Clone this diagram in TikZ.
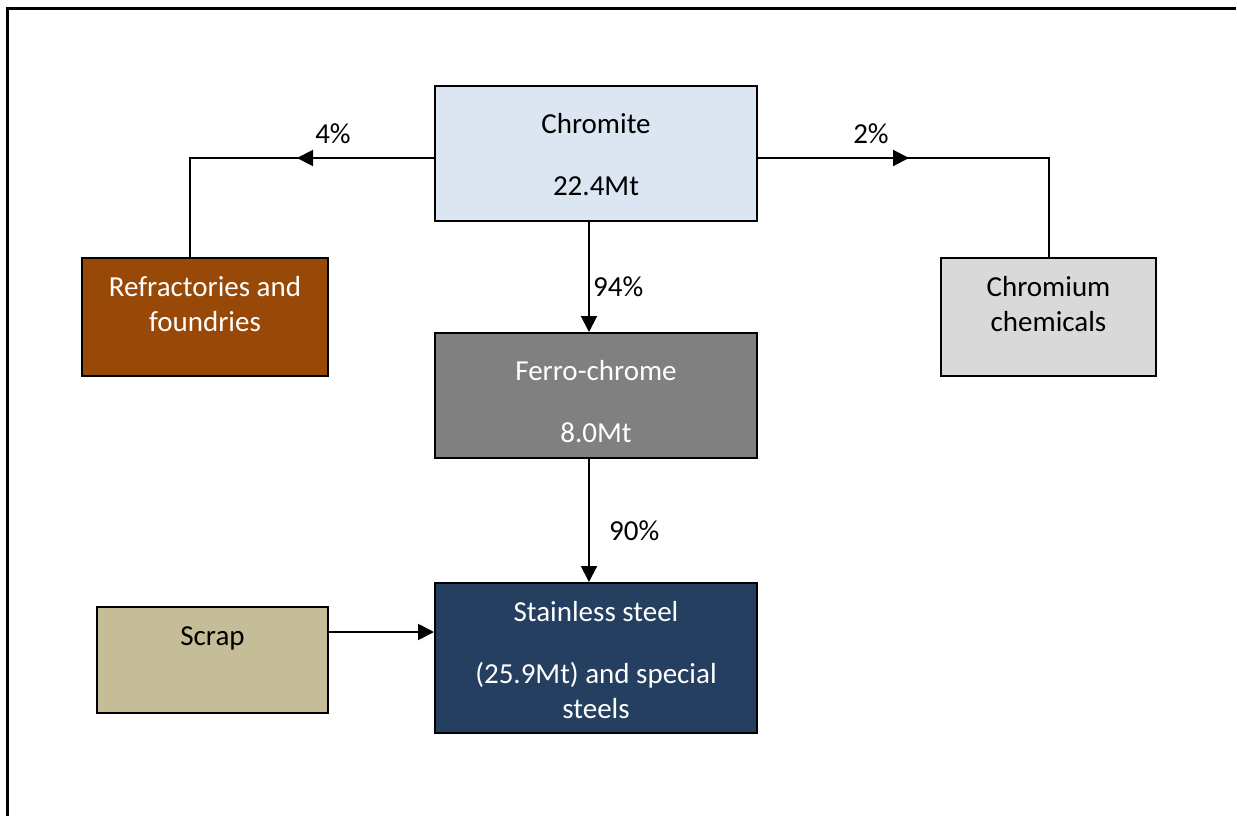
\documentclass[tikz,border=0pt]{standalone}
\usepackage{fontspec}
\setmainfont{Carlito}
\usetikzlibrary{arrows.meta}
\usetikzlibrary{positioning}
\usetikzlibrary{decorations.markings}
\definecolor{chromiteblue}{HTML}{DCE6F2}
\definecolor{refrbrown}{HTML}{984807}
\definecolor{chemgrey}{HTML}{D9D9D9}
\definecolor{ferrogrey}{HTML}{808080}
\definecolor{steelblue}{HTML}{243F60}
\definecolor{scraptan}{HTML}{C4BD97}
\tikzset{
	box/.style={rectangle,draw=black,line width=2pt,inner sep=0pt},
	boxtext/.style={align=center,inner sep=0pt,anchor=north,font=\fontsize{29}{35}\selectfont},
	pct/.style={inner sep=0pt,anchor=base,font=\fontsize{29}{35}\selectfont},
	flow/.style={line width=2pt,-{Triangle[length=16pt,width=16pt]}},
	midarrow/.style={line width=2pt,decoration={markings,
		mark=at position #1 with {\arrow{Triangle[length=16pt,width=16pt]}}},postaction={decorate}}
}
\newcommand{\topstrut}{\rule{0pt}{24pt}}

\begin{document}
\begin{tikzpicture}[x=1pt,y=-1pt]
	\useasboundingbox (0,0) rectangle (1237,816);
	% frame
	\draw[line width=3pt] (7,816) -- (7,9) -- (1236,9);

	% boxes
	\node [box,fill=chromiteblue,minimum width=322pt,minimum height=135pt] (chromite) at (596,153.5) {};
	\node [box,fill=refrbrown,minimum width=246pt,minimum height=118pt] (refr) at (205,317) {};
	\node [box,fill=chemgrey,minimum width=215pt,minimum height=118pt] (chem) at (1048.5,317) {};
	\node [box,fill=ferrogrey,minimum width=322pt,minimum height=125pt] (ferro) at (596,395.5) {};
	\node [box,fill=steelblue,minimum width=322pt,minimum height=150pt] (steel) at (596,658) {};
	\node [box,fill=scraptan,minimum width=231pt,minimum height=106pt] (scrap) at (212.5,660) {};

	% box texts
	\node [boxtext] (chromitetext) at ([yshift=-24pt]chromite.north) {\topstrut Chromite\\[27pt]22.4Mt};
	\node [boxtext,text=white] (refrtext) at ([yshift=-15pt]refr.north) {\topstrut Refractories and\\foundries};
	\node [boxtext] (chemtext) at ([yshift=-15pt]chem.north) {\topstrut Chromium\\chemicals};
	\node [boxtext,text=white] (ferrotext) at ([yshift=-24pt]ferro.north) {\topstrut Ferro-chrome\\[27pt]8.0Mt};
	\node [boxtext,text=white] (steeltext) at ([yshift=-15pt]steel.north) {\topstrut Stainless steel\\[27pt](25.9Mt) and special\\steels};
	\node [boxtext] (scraptext) at ([yshift=-15pt]scrap.north) {\topstrut Scrap};

	% connectors
	\draw [midarrow=137pt] (chromite.west |- 0,158) -| ([xshift=-15pt]refr.north);
	\draw [midarrow=151pt] (chromite.east |- 0,158) -| (chem.north);
	\draw [flow] ([xshift=-7pt]chromite.south) -- ([xshift=-7pt]ferro.north);
	\draw [flow] ([xshift=-7pt]ferro.south) -- ([xshift=-7pt]steel.north);
	\draw [flow] ([yshift=28pt]scrap.east) -- ([yshift=26pt]steel.west);

	% percentages
	\node [pct] (refrpct) at (333,143) {4\%};
	\node [pct] (chempct) at (871,143) {2\%};
	\node [pct,anchor=base west] (ferropct) at (593,296) {94\%};
	\node [pct,anchor=base west] (steelpct) at (609,540) {90\%};
\end{tikzpicture}
\end{document}
